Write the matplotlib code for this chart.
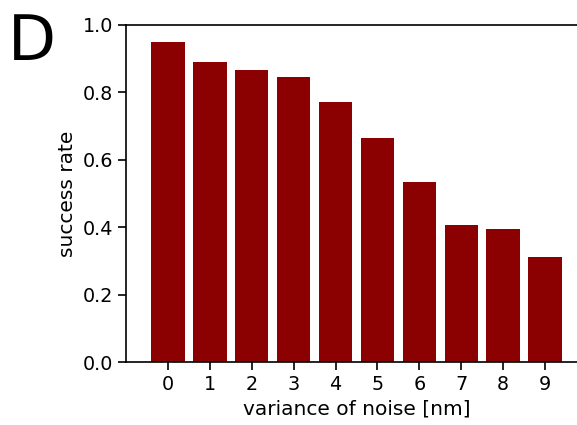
import matplotlib
matplotlib.use("Agg")
import matplotlib.pyplot as plt

noise = [0, 1, 2, 3, 4, 5, 6, 7, 8, 9]
success = [0.950, 0.890, 0.866, 0.846, 0.772, 0.665, 0.534, 0.407, 0.394, 0.312]

fig = plt.figure(figsize=(5.77, 4.25), dpi=100)
ax = fig.add_axes([126 / 577, 63 / 425, 461 / 577, 337 / 425])
ax.bar(noise, success, width=0.8, color="darkred")
ax.set_xlim(-1, 10)
ax.set_ylim(0, 1.0)
ax.set_xticks(noise)
ax.set_yticks([0.0, 0.2, 0.4, 0.6, 0.8, 1.0])
ax.tick_params(labelsize=13.8, length=6, width=1.2)
ax.set_xlabel("variance of noise [nm]", fontsize=14.5)
ax.set_ylabel("success rate", fontsize=14.5)
for s in ax.spines.values():
    s.set_linewidth(1.2)

fig.text(8 / 577, 1 - 60 / 425, "D", fontsize=45)

plt.savefig("out.png", dpi=100)
